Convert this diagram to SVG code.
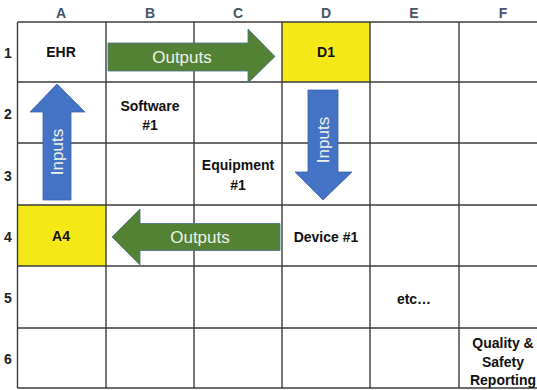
<svg xmlns="http://www.w3.org/2000/svg" width="537" height="390" viewBox="0 0 537 390">
<style>
.grid{stroke:#3c3c3c;stroke-width:1.4;fill:none}
.hdr{font-family:"Liberation Sans",Arial,sans-serif;font-weight:bold;font-size:14px;fill:#44546a;text-anchor:middle}
.row{font-family:"Liberation Sans",Arial,sans-serif;font-weight:bold;font-size:14px;fill:#222;text-anchor:middle}
.lbl{font-family:"Liberation Sans",Arial,sans-serif;font-weight:bold;font-size:14px;fill:#111;text-anchor:middle}
.yel{fill:#f5e817}
.green{fill:#548235;stroke:#4a6f8c;stroke-width:0.8}
.blue{fill:#4472c4;stroke:#3a62a8;stroke-width:0.8}
.atxt{font-family:"Liberation Sans",Arial,sans-serif;font-size:17px;fill:#eef2ea;text-anchor:middle}
</style>
<rect width="537" height="390" fill="#ffffff"/>
<g id="headers">
<text class="hdr" x="61" y="18">A</text>
<text class="hdr" x="150" y="18">B</text>
<text class="hdr" x="238" y="18">C</text>
<text class="hdr" x="326" y="18">D</text>
<text class="hdr" x="414" y="18">E</text>
<text class="hdr" x="503" y="18">F</text>
<text class="row" x="8" y="58">1</text>
<text class="row" x="8" y="119">2</text>
<text class="row" x="8" y="181">3</text>
<text class="row" x="8" y="242">4</text>
<text class="row" x="8" y="303">5</text>
<text class="row" x="8" y="364">6</text>
</g>
<g id="cell-D1"><rect class="yel" x="282" y="22" width="88" height="60"/><text class="lbl" x="326" y="57">D1</text></g>
<g id="cell-A4"><rect class="yel" x="17.5" y="205" width="88.5" height="61"/><text class="lbl" x="61" y="241">A4</text></g>
<g id="grid">
<path class="grid" d="M17.5 22V388M106 22V388M194 22V388M282 22V388M370 22V388M459 22V388M17.5 22H545M17.5 82H545M17.5 143H545M17.5 205H545M17.5 266H545M17.5 328H545M17.5 388H545"/>
</g>
<g id="cell-EHR"><text class="lbl" x="61" y="57">EHR</text></g>
<g id="cell-software"><text class="lbl" x="150" y="111">Software</text><text class="lbl" x="150" y="130">#1</text></g>
<g id="cell-equipment"><text class="lbl" x="238" y="170">Equipment</text><text class="lbl" x="238" y="190">#1</text></g>
<g id="cell-device"><text class="lbl" x="326" y="242">Device #1</text></g>
<g id="cell-etc"><text class="lbl" x="414" y="304">etc…</text></g>
<g id="cell-quality"><text class="lbl" x="503" y="348">Quality &amp;</text><text class="lbl" x="503" y="367">Safety</text><text class="lbl" x="503" y="385">Reporting</text></g>
<g id="connectors">
<g id="arrow-outputs-top"><polygon class="green" points="108,43 248,43 248,29 275,56.5 248,83 248,71 108,71"/><text class="atxt" x="182" y="63">Outputs</text></g>
<g id="arrow-outputs-row4"><polygon class="green" points="280,223.5 140,223.5 140,209 112,237 140,265 140,250.5 280,250.5"/><text class="atxt" x="200" y="243">Outputs</text></g>
<g id="arrow-inputs-up"><polygon class="blue" points="43,200 43,112 30,112 57,84 85,112 71,112 71,200"/><text class="atxt" transform="translate(63,152) rotate(-90)" x="0" y="0">Inputs</text></g>
<g id="arrow-inputs-down"><polygon class="blue" points="308,90 338,90 338,172 352,172 323,200 295,172 308,172"/><text class="atxt" transform="translate(329,140) rotate(-90)" x="0" y="0">Inputs</text></g>
</g>
</svg>
